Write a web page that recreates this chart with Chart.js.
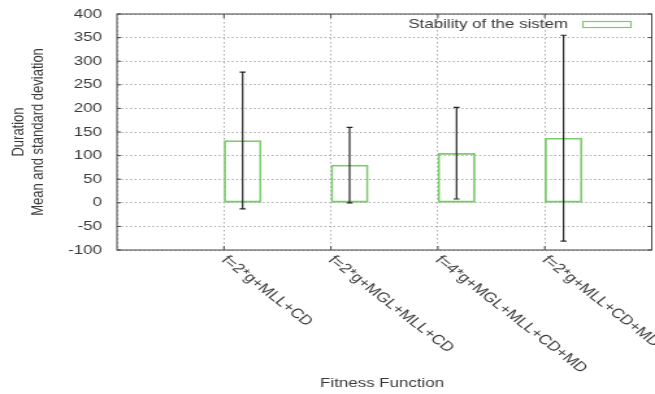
<!DOCTYPE html>
<html>
<head>
<meta charset="utf-8">
<script src="https://cdn.jsdelivr.net/npm/chart.js@4/dist/chart.umd.min.js"></script>
<style>
  html, body { margin: 0; padding: 0; background: #fff; overflow: hidden; }
  /* the original picture is stretched sideways, so draw narrow and widen it */
  #wrap { width: 504px; height: 394px; transform: scaleX(1.2996); transform-origin: 0 0; }
</style>
</head>
<body>
<div id="wrap"><canvas id="chart" width="504" height="394"></canvas></div>
<script>
const categories = ['f=2*g+MLL+CD', 'f=2*g+MGL+MLL+CD', 'f=4*g+MGL+MLL+CD+MD', 'f=2*g+MLL+CD+MD'];
const means = [132, 80, 105, 137];
const stdDevs = [145, 80, 97, 218];
const yTicks = { min: -100, max: 400, step: 50 };
const seriesName = 'Stability of the sistem';
const xTitle = 'Fitness Function';
const yTitle = ['Duration', 'Mean and standard deviation'];

const green = '#7ccb6c';
const ink = '#3a3a3a';
const font = '"Liberation Sans", Arial, sans-serif';
const barShift = 0.175; // gnuplot puts the box to the right of the tick

// frame, error bars, rotated labels, titles and legend
const gnuplotLook = {
  id: 'gnuplotLook',
  afterDatasetsDraw(chart) {
    const ctx = chart.ctx;
    const x = chart.scales.x, y = chart.scales.y;
    const a = chart.chartArea;

    ctx.save();
    // error bars
    ctx.strokeStyle = '#262626';
    ctx.lineWidth = 1.2;
    means.forEach((m, i) => {
      const px = x.getPixelForValue(i + barShift);
      const top = y.getPixelForValue(m + stdDevs[i]);
      const bot = y.getPixelForValue(m - stdDevs[i]);
      ctx.beginPath();
      ctx.moveTo(px, top); ctx.lineTo(px, bot);
      ctx.moveTo(px - 2.3, top); ctx.lineTo(px + 2.3, top);
      ctx.moveTo(px - 2.3, bot); ctx.lineTo(px + 2.3, bot);
      ctx.stroke();
    });

    // frame with inward ticks
    ctx.strokeStyle = '#444';
    ctx.lineWidth = 1;
    ctx.strokeRect(a.left, a.top, a.right - a.left, a.bottom - a.top);
    ctx.beginPath();
    for (let v = yTicks.min; v <= yTicks.max; v += yTicks.step) {
      const py = y.getPixelForValue(v);
      ctx.moveTo(a.left, py); ctx.lineTo(a.left + 3, py);
      ctx.moveTo(a.right, py); ctx.lineTo(a.right - 3, py);
    }
    categories.forEach((c, i) => {
      const px = x.getPixelForValue(i);
      ctx.moveTo(px, a.bottom); ctx.lineTo(px, a.bottom - 4);
      ctx.moveTo(px, a.top); ctx.lineTo(px, a.top + 4);
    });
    ctx.stroke();

    // rotated category labels
    ctx.fillStyle = ink;
    ctx.font = '13.5px ' + font;
    ctx.textAlign = 'left';
    ctx.textBaseline = 'middle';
    categories.forEach((c, i) => {
      ctx.save();
      ctx.translate(x.getPixelForValue(i), a.bottom + 8);
      ctx.rotate(Math.PI / 4);
      ctx.fillText(c, 0, 0);
      ctx.restore();
    });

    // x title
    ctx.font = '13px ' + font;
    ctx.textAlign = 'center';
    ctx.fillText(xTitle, 294, 383);

    // y title, two lines
    const cy = (a.top + a.bottom) / 2;
    [14.6, 29.2].forEach((lx, k) => {
      ctx.save();
      ctx.translate(lx, cy);
      ctx.rotate(-Math.PI / 2);
      ctx.fillText(yTitle[k], 0, 0);
      ctx.restore();
    });

    // legend: text then key box
    ctx.textAlign = 'right';
    ctx.fillText(seriesName, 437, 24);
    ctx.strokeStyle = green;
    ctx.lineWidth = 1.2;
    ctx.strokeRect(448.5, 21.5, 37, 6);
    ctx.restore();
  }
};

new Chart(document.getElementById('chart'), {
  type: 'bar',
  data: {
    datasets: [{
      label: seriesName,
      data: means.map((m, i) => ({ x: i + barShift, y: m })),
      backgroundColor: 'rgba(0,0,0,0)',
      borderColor: green,
      borderWidth: 1.1,
      borderSkipped: false,
      barThickness: 28.5
    }]
  },
  options: {
    responsive: false,
    animation: false,
    layout: { padding: { top: 14, right: 2.5, left: 0, bottom: 0 } },
    plugins: { legend: { display: false }, tooltip: { enabled: false } },
    scales: {
      x: {
        type: 'linear',
        offset: false,
        min: -1,
        max: categories.length,
        ticks: { display: false, stepSize: 1 },
        grid: { color: '#a8a8a8', lineWidth: 1, drawTicks: false, offset: false },
        border: { display: false, dash: [1.5, 2.5] },
        afterFit(scale) { scale.height = 144; }
      },
      y: {
        min: yTicks.min,
        max: yTicks.max,
        ticks: { stepSize: yTicks.step, padding: 0, color: ink, font: { family: 'Liberation Sans', size: 13 } },
        grid: { color: '#a8a8a8', lineWidth: 1, drawTicks: true, tickLength: 11.5, tickColor: 'rgba(0,0,0,0)' },
        border: { display: false, dash: [1.4, 2] },
        afterFit(scale) { scale.width = 90; }
      }
    }
  },
  plugins: [gnuplotLook]
});
</script>
</body>
</html>
